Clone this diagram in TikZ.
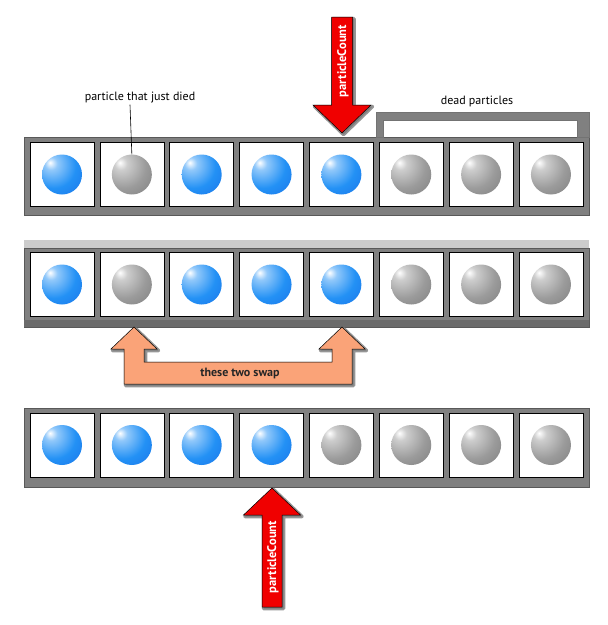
\documentclass[tikz,border=0pt]{standalone}
\usepackage{fontspec}
\setmainfont{PT Sans}
\definecolor{bl}{RGB}{35,145,245}
\definecolor{bldark}{RGB}{20,95,225}
\definecolor{gr}{RGB}{155,155,155}
\definecolor{grdark}{RGB}{105,105,105}
\definecolor{barc}{RGB}{128,128,128}
\definecolor{swapc}{RGB}{250,163,120}
\definecolor{redc}{RGB}{240,0,0}
\pgfdeclareradialshading{blueball}{\pgfpoint{-15bp}{15bp}}{color(0bp)=(white); color(8bp)=(bl!50!white); color(28bp)=(bl); color(64bp)=(bldark); color(100bp)=(bldark)}
\pgfdeclareradialshading{grayball}{\pgfpoint{-15bp}{15bp}}{color(0bp)=(white); color(8bp)=(gr!50!white); color(28bp)=(gr); color(64bp)=(grdark); color(100bp)=(grdark)}
\begin{document}
\begin{tikzpicture}[x=1pt,y=-1pt,
  bar/.style={fill=barc, draw=black!65, line width=0.8pt},
  cellbox/.style={draw=black, line width=0.7pt, fill=white, inner sep=0pt, minimum width=64pt, minimum height=64pt},
  liveball/.style={circle, inner sep=0pt, minimum size=40pt, shade, shading=blueball},
  deadball/.style={circle, inner sep=0pt, minimum size=40pt, shade, shading=grayball},
  halo/.style={preaction={draw=black!55, fill=black!55, line width=3.5pt, line join=round, opacity=0.75, transform canvas={shift={(1.5pt,-1.5pt)}}}},
  redarrow/.style={fill=redc, draw=black, line width=0.5pt, line join=miter, halo},
  swaparrow/.style={fill=swapc, draw=black, line width=0.5pt, line join=miter, halo},
  lbl/.style={font=\fontsize{12}{14}\selectfont, text=black, inner sep=1pt},
  arrowtext/.style={rotate=90, text=white, font=\bfseries\fontsize{12.5}{14}\selectfont, inner sep=0pt}]
\useasboundingbox (0,0) rectangle (608,625);

% ---- row 1 ----
\draw[bar] (24,137) rectangle (589,215);
\foreach \i/\t in {0/liveball,1/deadball,2/liveball,3/liveball,4/liveball,5/deadball,6/deadball,7/deadball}{
  \node[cellbox] (a\i) at ({62+69.85*\i},174.5) {};
  \node[\t] (ba\i) at (a\i.center) {};
}
% dead particles bracket
\draw[fill=barc, draw=black!55, line width=0.5pt] (376,137) -- (376,112) -- (589,112) -- (589,137) -- (577,137) -- (577,120) -- (383,120) -- (383,137) -- cycle;
\node[lbl] (dead) at (477,101) {dead particles};
\node[lbl] (died) at (140,98) {particle that just died};
\draw[line width=0.6pt] ([xshift=-10pt]died.south) -- (ba1.north);

% top particleCount arrow
\draw[redarrow] (342,133) -- (313,105) -- (331.5,105) -- (331.5,17) -- (352.5,17) -- (352.5,105) -- (371,105) -- cycle;
\node[arrowtext] (pc1) at (343,61) {particleCount};

% ---- row 2 ----
\fill[black!20] (24,240) rectangle (589,248);
\draw[bar] (24,248) rectangle (589,327);
\fill[black!58] (24.4,320) rectangle (588.6,326.6);
\foreach \i/\t in {0/liveball,1/deadball,2/liveball,3/liveball,4/liveball,5/deadball,6/deadball,7/deadball}{
  \node[cellbox] (b\i) at ({62+69.85*\i},284.5) {};
  \node[\t] (bb\i) at (b\i.center) {};
}

% swap arrow
\draw[swaparrow] (134,327) -- (157,349) -- (144,349) -- (144,362) -- (332,362) -- (332,349) -- (319,349) -- (342,327) -- (365,349) -- (352,349) -- (352,384) -- (124,384) -- (124,349) -- (111,349) -- cycle;
\node[font=\bfseries\fontsize{12}{14}\selectfont, text=black!85, inner sep=0pt] (swap) at (240,373.5) {these two swap};

% ---- row 3 ----
\draw[bar] (24,408) rectangle (589,487);
\foreach \i/\t in {0/liveball,1/liveball,2/liveball,3/liveball,4/deadball,5/deadball,6/deadball,7/deadball}{
  \node[cellbox] (c\i) at ({62+69.85*\i},445) {};
  \node[\t] (bc\i) at (c\i.center) {};
}

% bottom particleCount arrow
\draw[redarrow] (272,488) -- (243.5,515) -- (262,515) -- (262,607) -- (282,607) -- (282,515) -- (300.5,515) -- cycle;
\node[arrowtext] (pc3) at (273,557) {particleCount};
\end{tikzpicture}
\end{document}
